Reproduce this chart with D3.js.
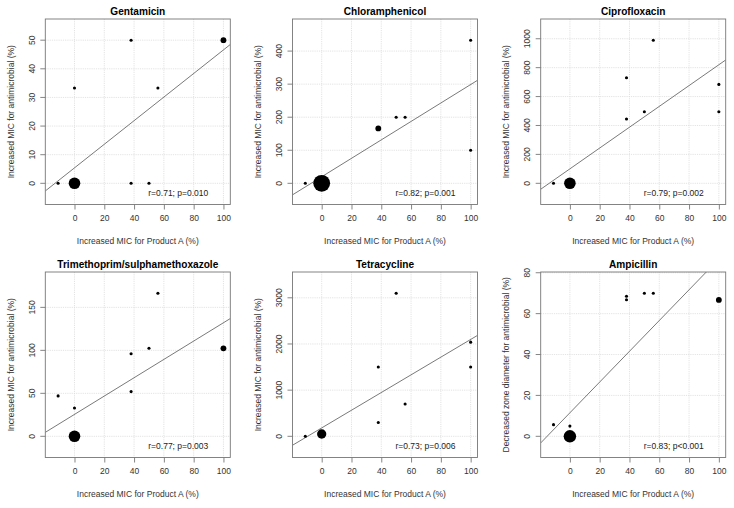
<!DOCTYPE html>
<html><head><meta charset="utf-8">
<script src="https://cdn.jsdelivr.net/npm/d3@7"></script>
<style>
html,body{margin:0;padding:0;background:#fff;}
svg{display:block;font-family:"Liberation Sans",Arial,Helvetica,sans-serif;}
</style></head>
<body>
<svg id="chart" width="734" height="508"></svg>
<script>
// ---- data ----
const titles = ["Gentamicin","Chloramphenicol","Ciprofloxacin","Trimethoprim/sulphamethoxazole","Tetracycline","Ampicillin"];
const yLabels = ["Increased MIC for antimicrobial (%)","Increased MIC for antimicrobial (%)","Increased MIC for antimicrobial (%)","Increased MIC for antimicrobial (%)","Increased MIC for antimicrobial (%)","Decreased zone diameter for antimicrobial (%)"];
const xLabel = "Increased MIC for Product A (%)";
const statText = ["r=0.71; p=0.010","r=0.82; p=0.001","r=0.79; p=0.002","r=0.77; p=0.003","r=0.73; p=0.006","r=0.83; p<0.001"];

const gentX = [-11, 0, 0, 38, 38, 50, 56, 100];
const gentY = [0, 0, 33.3, 50, 0, 0, 33.3, 50];
const gentN = [1, 4, 1, 1, 1, 1, 1, 2];

const chloX = [-11, 0, 38, 50, 56, 100, 100];
const chloY = [0, 0, 166, 200, 200, 433, 100];
const chloN = [1, 5.8, 2, 1, 1, 1, 1];

const ciprX = [-11, 0, 38, 38, 50, 56, 100, 100];
const ciprY = [0, 0, 730, 445, 495, 990, 684, 495];
const ciprN = [1, 4, 1, 1, 1, 1, 1, 1];

const trimX = [-11, 0, 0, 38, 38, 50, 56, 100];
const trimY = [47, 33, 0, 96, 52, 102.5, 166.5, 102.3];
const trimN = [1, 1, 4, 1, 1, 1, 1, 2];

const tetrX = [-11, 0, 38, 38, 50, 56, 100, 100];
const tetrY = [0, 50, 1500, 300, 3100, 700, 2040, 1500];
const tetrN = [1, 3.2, 1, 1, 1, 1, 1, 1];

const ampiX = [-11, 0, 0, 38, 38, 50, 56, 100];
const ampiY = [5.7, 5, 0, 68.5, 66.8, 70, 70, 66.7];
const ampiN = [1, 1, 4.3, 1, 1, 1, 1, 2];

// regression lines: intercept, slope
const fitA = [5.4, 19.8, 100, 25.5, 182, 11.5];
const fitB = [0.412, 2.79, 7.2, 1.066, 19.16, 0.752];

const xTicks = [0, 20, 40, 60, 80, 100];
const yTicks = [
  [0, 10, 20, 30, 40, 50],
  [0, 100, 200, 300, 400],
  [0, 200, 400, 600, 800, 1000],
  [0, 50, 100, 150],
  [0, 1000, 2000, 3000],
  [0, 20, 40, 60, 80]
];
const xLim = [-15, 100];

const seriesX = [gentX, chloX, ciprX, trimX, tetrX, ampiX];
const seriesY = [gentY, chloY, ciprY, trimY, tetrY, ampiY];
const seriesN = [gentN, chloN, ciprN, trimN, tetrN, ampiN];

// ---- layout ----
const colLeft = [45.3, 292.5, 540.7];
const boxW = 185;
const rowTop = [19, 272];
const boxH = 185.5;

const svg = d3.select("#chart");
const defs = svg.append("defs");
const rScale = d3.scaleLinear().domain([0, 1]).range([0, 1.45]);
const fmt = d3.format("d");

function padded(lo, hi) { const p = (hi - lo) * 0.04; return [lo - p, hi + p]; }

titles.forEach((t, i) => {
  const col = i % 3, row = Math.floor(i / 3);
  const x0 = colLeft[col], y0 = rowTop[row];
  const xs = seriesX[i], ys = seriesY[i], ns = seriesN[i];
  const ymax = d3.max(ys);
  const x = d3.scaleLinear().domain(padded(xLim[0], xLim[1])).range([x0, x0 + boxW]);
  const y = d3.scaleLinear().domain(padded(-0.1 * ymax, 1.1 * ymax)).range([y0 + boxH, y0]);
  const g = svg.append("g");

  // grid
  g.append("g").selectAll("line").data(xTicks).join("line")
    .attr("x1", d => x(d)).attr("x2", d => x(d)).attr("y1", y0).attr("y2", y0 + boxH)
    .attr("stroke", "#dcdcdc").attr("stroke-width", 0.8).attr("stroke-dasharray", "1.2,1");
  g.append("g").selectAll("line").data(yTicks[i]).join("line")
    .attr("y1", d => y(d)).attr("y2", d => y(d)).attr("x1", x0).attr("x2", x0 + boxW)
    .attr("stroke", "#dcdcdc").attr("stroke-width", 0.8).attr("stroke-dasharray", "1.2,1");

  // axes
  const xa = g.append("g").attr("transform", `translate(0,${y0 + boxH})`)
    .call(d3.axisBottom(x).tickValues(xTicks).tickFormat(fmt).tickSize(5).tickPadding(4));
  const ya = g.append("g").attr("transform", `translate(${x0},0)`)
    .call(d3.axisLeft(y).tickValues(yTicks[i]).tickFormat(fmt).tickSize(5).tickPadding(4));
  [xa, ya].forEach(a => {
    a.select(".domain").remove();
    a.selectAll(".tick line").attr("stroke", "#666").attr("stroke-width", 0.8);
    a.selectAll("text").attr("font-size", 8.5).attr("fill", "#333").attr("font-family", null);
  });
  xa.selectAll("text").attr("dy", "0.71em").attr("y", 10);
  ya.selectAll(".tick").each(function(d) {
    const tk = d3.select(this);
    tk.attr("transform", null);
    tk.select("line").attr("y1", y(d)).attr("y2", y(d));
    tk.select("text")
      .attr("text-anchor", "middle").attr("x", null)
      .attr("transform", `translate(${-13.5},${y(d)}) rotate(-90)`)
      .attr("dy", "0.35em");
  });

  // clip
  const cid = "clip" + i;
  defs.append("clipPath").attr("id", cid).append("rect")
    .attr("x", x0).attr("y", y0).attr("width", boxW).attr("height", boxH);

  // regression line
  const dom = x.domain();
  g.append("line").attr("clip-path", `url(#${cid})`)
    .attr("x1", x(dom[0])).attr("y1", y(fitA[i] + fitB[i] * dom[0]))
    .attr("x2", x(dom[1])).attr("y2", y(fitA[i] + fitB[i] * dom[1]))
    .attr("stroke", "#6a6a6a").attr("stroke-width", 0.9);

  // points
  g.append("g").selectAll("circle").data(xs.map((v, k) => ({ x: v, y: ys[k], n: ns[k] }))).join("circle")
    .attr("cx", d => x(d.x)).attr("cy", d => y(d.y)).attr("r", d => rScale(d.n) + (d.n === 1 ? 0.1 : 0))
    .attr("fill", "#000");

  // box
  g.append("rect").attr("x", x0).attr("y", y0).attr("width", boxW).attr("height", boxH)
    .attr("fill", "none").attr("stroke", "#777").attr("stroke-width", 0.9);

  // title
  g.append("text").attr("x", x0 + boxW / 2).attr("y", y0 - 4).attr("text-anchor", "middle")
    .attr("font-size", 10.1).attr("font-weight", "bold").attr("fill", "#000").text(t);

  // axis labels
  g.append("text").attr("x", x0 + boxW / 2).attr("y", y0 + boxH + 39).attr("text-anchor", "middle")
    .attr("font-size", 8.5).attr("fill", "#333").text(xLabel);
  g.append("text").attr("transform", `translate(${x0 - 34.5},${y0 + boxH / 2}) rotate(-90)`)
    .attr("text-anchor", "middle").attr("dy", "0.35em")
    .attr("font-size", 8.5).attr("fill", "#333").text(yLabels[i]);

  // stat text
  g.append("text").attr("x", x0 + boxW - 22).attr("y", y0 + boxH - 9).attr("text-anchor", "end")
    .attr("font-size", 8.5).attr("fill", "#222").text(statText[i]);
});
</script>
</body></html>
